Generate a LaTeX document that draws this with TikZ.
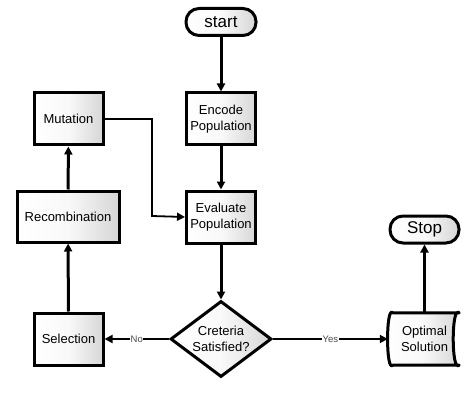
\documentclass[tikz,border=0pt]{standalone}
\usepackage{fontspec}
\setmainfont{Liberation Sans}
\usetikzlibrary{shapes.geometric,arrows.meta}
\begin{document}
\begin{tikzpicture}[x=1pt,y=-1pt,
  shadefill/.style={left color=white,right color=gray!32,middle color=white!95!gray},
  box/.style={draw,line width=3pt,shadefill,font=\fontsize{13}{15.5}\selectfont,align=center,inner sep=0pt,minimum width=69pt,minimum height=52pt},
  term/.style={draw,line width=3pt,shadefill,rounded corners=13pt,font=\fontsize{17}{19}\selectfont,inner sep=0pt,minimum width=70pt,minimum height=27pt},
  dec/.style={draw,line width=3pt,shadefill,diamond,aspect=1.33,font=\fontsize{13}{15.5}\selectfont,align=center,inner sep=0pt,minimum width=101pt,minimum height=76pt},
  thickarrow/.style={line width=3pt,-{Triangle[width=8pt,length=8pt]}},
  thinarrow/.style={line width=1.8pt,-{Triangle[width=8pt,length=8pt]}},
  lbl/.style={font=\fontsize{9.5}{10}\selectfont,text=gray!60!black,fill=white,inner sep=0.4pt}
]
\useasboundingbox (0,0) rectangle (474,401);
\node[term] (start) at (221,22) {start};
\node[box] (enc) at (221,119) {Encode\\Population};
\node[box] (eval) at (221,217) {Evaluate\\Population};
\node[box] (mut) at (68.5,119) {Mutation};
\node[box,minimum width=102pt,minimum height=51pt] (rec) at (68,216.5) {Recombination};
\node[box] (sel) at (68.5,339) {Selection};
\node[dec] (crit) at (221,339) {Creteria\\Satisfied?};
\node[inner sep=0pt,minimum width=69pt,minimum height=52pt] (opt) at (424.5,339) {};
\draw[line width=3pt,shadefill,line join=round]
  ([xshift=3pt]opt.north west) -- (opt.north east)
  .. controls ([xshift=-8pt,yshift=8pt]opt.north east) and ([xshift=-8pt,yshift=-8pt]opt.south east) .. (opt.south east)
  -- ([xshift=3pt]opt.south west)
  .. controls ([xshift=-4pt,yshift=-8pt]opt.south west) and ([xshift=-4pt,yshift=8pt]opt.north west) .. ([xshift=3pt]opt.north west) -- cycle;
\node[font=\fontsize{13}{15.5}\selectfont,align=center,inner sep=0pt] (optlabel) at (opt.center) {Optimal\\Solution};
\node[term,minimum width=69pt] (stop) at (424.5,229.5) {Stop};
\coordinate (bend) at (152,216);
\draw[thickarrow] (start) -- (enc);
\draw[thickarrow] (enc) -- (eval);
\draw[thickarrow] (eval) -- (crit);
\draw[thinarrow] (mut.east) -| (bend) -- (eval.west);
\draw[thickarrow] (rec) -- (mut);
\draw[thickarrow] (sel) -- (rec);
\draw[thinarrow] (crit.west) -- node[lbl] {No} (sel.east);
\draw[thinarrow] (crit.east) -- node[lbl] {Yes} ([xshift=-2pt]opt.west);
\draw[thickarrow] (opt.north) -- (stop.south);
\end{tikzpicture}
\end{document}
